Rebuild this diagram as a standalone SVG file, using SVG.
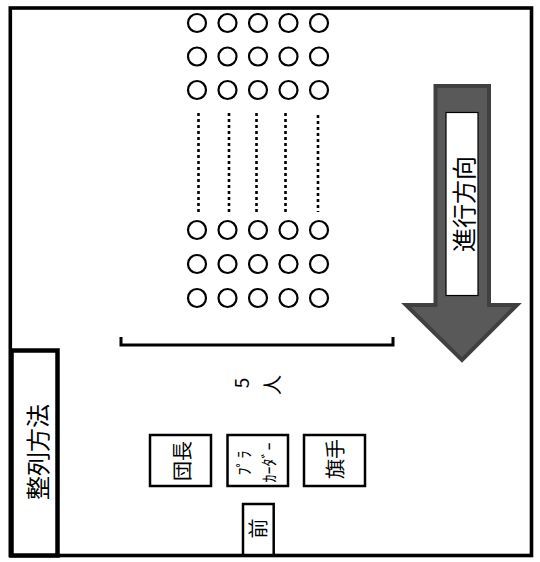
<svg xmlns="http://www.w3.org/2000/svg" width="540" height="562" viewBox="0 0 540 562">
<style>
.jp{font-family:"Noto Sans CJK JP","Noto Sans",sans-serif;fill:#000;text-anchor:middle;dominant-baseline:central}
.box{fill:#fff;stroke:#000;stroke-width:2.5}
.p{fill:#fff;stroke:#000;stroke-width:2.2}
.dot{stroke:#000;stroke-width:2.6;stroke-dasharray:3 3;fill:none}
</style>
<rect width="540" height="562" fill="#fff"/>
<g id="frame"><rect x="10.3" y="8" width="521.2" height="547.5" fill="none" stroke="#000" stroke-width="3.6"/></g>
<g id="arrow">
<polygon points="435.5,86 489,86 489,305 517,305 462,360 406,305 435.5,305" fill="#595959" stroke="#404040" stroke-width="4" stroke-linejoin="miter"/>
<rect x="446" y="112.5" width="32" height="183" fill="#fff" stroke="#000" stroke-width="1.2"/>
<text class="jp" x="462" y="204" font-size="24" transform="rotate(-90 462 204)">進行方向</text>
</g>
<g id="people">
<g class="p">
<circle cx="197" cy="23" r="9"/><circle cx="227.5" cy="23" r="9"/><circle cx="258" cy="23" r="9"/><circle cx="288.5" cy="23" r="9"/><circle cx="319" cy="23" r="9"/>
<circle cx="197" cy="56.5" r="9"/><circle cx="227.5" cy="56.5" r="9"/><circle cx="258" cy="56.5" r="9"/><circle cx="288.5" cy="56.5" r="9"/><circle cx="319" cy="56.5" r="9"/>
<circle cx="197" cy="90" r="9"/><circle cx="227.5" cy="90" r="9"/><circle cx="258" cy="90" r="9"/><circle cx="288.5" cy="90" r="9"/><circle cx="319" cy="90" r="9"/>
<circle cx="197" cy="230" r="9"/><circle cx="227.5" cy="230" r="9"/><circle cx="258" cy="230" r="9"/><circle cx="288.5" cy="230" r="9"/><circle cx="319" cy="230" r="9"/>
<circle cx="197" cy="264" r="9"/><circle cx="227.5" cy="264" r="9"/><circle cx="258" cy="264" r="9"/><circle cx="288.5" cy="264" r="9"/><circle cx="319" cy="264" r="9"/>
<circle cx="197" cy="298" r="9"/><circle cx="227.5" cy="298" r="9"/><circle cx="258" cy="298" r="9"/><circle cx="288.5" cy="298" r="9"/><circle cx="319" cy="298" r="9"/>
</g>
</g>
<g id="connectors">
<line class="dot" x1="198.5" y1="113" x2="198.5" y2="212"/>
<line class="dot" x1="229" y1="113" x2="229" y2="212"/>
<line class="dot" x1="256.5" y1="113" x2="256.5" y2="212"/>
<line class="dot" x1="285.5" y1="113" x2="285.5" y2="212"/>
<line class="dot" x1="318" y1="115" x2="318" y2="212"/>
<path d="M121,337 V345 H393 V337" fill="none" stroke="#000" stroke-width="3"/>
</g>
<g id="count">
<text class="jp" x="240" y="383" font-size="19" transform="rotate(-90 240 383)">5</text>
<text class="jp" x="271" y="385" font-size="20" transform="rotate(-90 271 385)">人</text>
</g>
<g id="method">
<rect x="11.5" y="350.5" width="46" height="205" fill="#fff" stroke="#000" stroke-width="4.5"/>
<text class="jp" x="36.5" y="452" font-size="24" transform="rotate(-90 36.5 452)">整列方法</text>
</g>
<g id="danchou">
<rect class="box" x="150" y="435" width="61" height="51"/>
<text class="jp" x="181.5" y="461" font-size="20" transform="rotate(-90 181.5 461)">団長</text>
</g>
<g id="placard">
<rect class="box" x="227.5" y="435" width="60.5" height="51"/>
<text class="jp" x="243" y="462.5" font-size="16" letter-spacing="1" transform="rotate(-90 243 462.5)">ﾌﾟﾗ</text>
<text class="jp" x="268" y="462.5" font-size="16" transform="rotate(-90 268 462.5)">ｶｰﾀﾞｰ</text>
</g>
<g id="kishu">
<rect class="box" x="304" y="435" width="61" height="51"/>
<text class="jp" x="334" y="459" font-size="20" transform="rotate(-90 334 459)">旗手</text>
</g>
<g id="mae">
<rect class="box" x="243" y="504" width="30.7" height="51"/>
<text class="jp" x="257.5" y="528.5" font-size="20" transform="rotate(-90 257.5 528.5)">前</text>
</g>
</svg>
